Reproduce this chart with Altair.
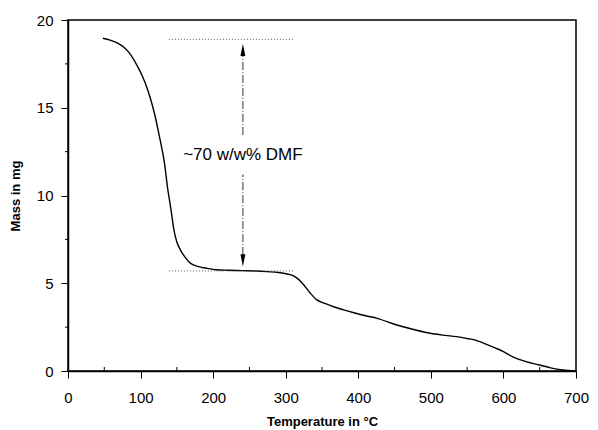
import altair as alt
import pandas as pd

temp = [48, 58, 69, 77, 85, 96, 103, 110, 119, 126, 133, 137, 142, 146, 150, 155,
        162, 169, 180, 192, 204, 220, 240, 260, 275, 290, 302, 310, 316, 325, 334,
        343, 354, 366, 380, 394, 410, 426, 453, 475, 499, 520, 535, 550, 560, 575,
        590, 600, 613, 630, 650, 665, 682, 700]
mass = [18.96, 18.85, 18.67, 18.45, 18.1, 17.34, 16.75, 16.0, 14.7, 13.35, 11.83,
        10.5, 9.17, 8.03, 7.35, 6.89, 6.45, 6.13, 5.95, 5.85, 5.77, 5.74, 5.72, 5.7,
        5.66, 5.61, 5.53, 5.44, 5.28, 4.9, 4.43, 4.05, 3.85, 3.66, 3.48, 3.32, 3.15,
        3.0, 2.62, 2.38, 2.15, 2.03, 1.96, 1.85, 1.77, 1.55, 1.29, 1.1, 0.81, 0.55,
        0.34, 0.18, 0.06, 0.0]

x_ticks = [0, 100, 200, 300, 400, 500, 600, 700]
x_minor = [50, 150, 250, 350, 450, 550, 650]
y_ticks = [0, 5, 10, 15, 20]
y_minor = [2.5, 7.5, 12.5, 17.5]

ref_lo = 5.7
ref_hi = 18.9
ref_x0, ref_x1 = 139, 310
arrow_x = 241
label_text = "~70 w/w% DMF"
label_y = 12.3
gap_lo, gap_hi = 11.2, 13.45

FONT = "Liberation Sans"
W, H = 508, 351

xs = alt.Scale(domain=[0, 700], nice=False)
ys = alt.Scale(domain=[0, 20], nice=False)

df = pd.DataFrame({"t": temp, "m": mass})

curve = alt.Chart(df).mark_line(color="black", strokeWidth=1.4, interpolate="monotone").encode(
    x=alt.X("t:Q", scale=xs, axis=alt.Axis(values=x_ticks, title="Temperature in °C",
                                           tickSize=7, labelPadding=12, titlePadding=10)),
    y=alt.Y("m:Q", scale=ys, axis=alt.Axis(values=y_ticks, title="Mass in mg",
                                           tickSize=7, labelPadding=8, titlePadding=14)),
)

refs = alt.Chart(pd.DataFrame({"y": [ref_lo, ref_hi], "x0": [ref_x0, ref_x0], "x1": [ref_x1, ref_x1]})).mark_rule(
    color="#555555", strokeWidth=1, strokeDash=[1, 2]
).encode(x=alt.X("x0:Q", scale=xs), x2="x1:Q", y=alt.Y("y:Q", scale=ys))

vlines = alt.Chart(pd.DataFrame({"x": [arrow_x, arrow_x], "a": [ref_lo + 0.9, gap_hi], "b": [gap_lo, ref_hi - 0.9]})).mark_rule(
    color="#333333", strokeWidth=1, strokeDash=[8, 2, 1, 2]
).encode(x=alt.X("x:Q", scale=xs), y=alt.Y("a:Q", scale=ys), y2="b:Q")

heads = alt.Chart(pd.DataFrame({"x": [arrow_x, arrow_x], "y": [ref_hi - 0.6, ref_lo + 0.6],
                                "s": ["up", "down"]})).mark_point(
    filled=True, color="black", size=150, opacity=1
).encode(x=alt.X("x:Q", scale=xs), y=alt.Y("y:Q", scale=ys),
         shape=alt.Shape("s:N", scale=alt.Scale(domain=["up", "down"],
                                                 range=["M-0.4,1L0,-1L0.4,1Z", "M-0.4,-1L0,1L0.4,-1Z"]),
                         legend=None))

label = alt.Chart(pd.DataFrame({"x": [arrow_x], "y": [label_y], "t": [label_text]})).mark_text(
    font=FONT, fontSize=17, color="black", align="center", baseline="middle"
).encode(x=alt.X("x:Q", scale=xs), y=alt.Y("y:Q", scale=ys), text="t:N")

xminor = alt.Chart(pd.DataFrame({"x": x_minor})).mark_rule(color="black", strokeWidth=1).encode(
    x=alt.X("x:Q", scale=xs), y=alt.value(H), y2=alt.value(H - 4))

yminor = alt.Chart(pd.DataFrame({"y": y_minor})).mark_rule(color="black", strokeWidth=1).encode(
    y=alt.Y("y:Q", scale=ys), x=alt.value(0), x2=alt.value(-3))

chart = alt.layer(curve, refs, vlines, heads, label, xminor, yminor).properties(
    width=W, height=H,
    autosize=alt.AutoSizeParams(type="none"),
    padding={"left": 60, "top": 12, "right": 14, "bottom": 58},
).configure_view(stroke="black", strokeWidth=1.5).configure_axis(
    grid=False, domainColor="black", domainWidth=1.5, tickColor="black", tickWidth=1,
    labelColor="black", titleColor="black", labelFont=FONT, titleFont=FONT,
    labelFontSize=15, titleFontSize=13, titleFontWeight="bold", labelFlush=False,
)

chart.save("out.html", embed_options={"renderer": "svg", "actions": False})
